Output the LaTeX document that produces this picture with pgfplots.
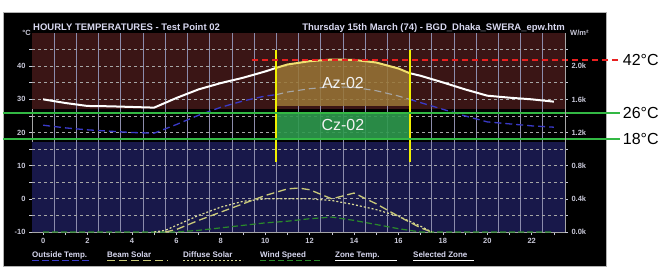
\documentclass[border=0pt]{standalone}
\usepackage{fontspec}
\setmainfont{Liberation Sans}
\usepackage{pgfplots}
\pgfplotsset{compat=1.18}
\definecolor{maroonbg}{HTML}{3A1515}
\definecolor{navybg}{HTML}{18184A}
\definecolor{gridc}{HTML}{8C8CAC}
\definecolor{tickc}{HTML}{C8C8D8}
\definecolor{titc}{HTML}{D8D8F0}
\definecolor{outc}{HTML}{3A3AC8}
\definecolor{beamc}{HTML}{CACA7A}
\definecolor{diffc}{HTML}{DADA98}
\definecolor{windc}{HTML}{2A8A2A}
\definecolor{azc}{HTML}{9A7636}
\definecolor{czc}{HTML}{2E9A4E}
\definecolor{linegreen}{HTML}{33B844}
\definecolor{zoney}{HTML}{F2E070}
\definecolor{vyellow}{HTML}{F0F000}
\definecolor{redl}{HTML}{E82020}
\pgfplotsset{
  base/.style={at={(32pt,34pt)}, anchor=south west, scale only axis,
    width=533pt, height=199pt, xmin=-0.5, xmax=23.5,
    tick align=outside, major tick length=3pt, minor tick length=3pt,
    tick style={draw=tickc, line width=0.6pt},
    ticklabel style={font=\bfseries\fontsize{7.5}{8}\selectfont, text=tickc},
    /pgf/number format/assume math mode=true, clip=false}
}
\begin{document}
\begin{tikzpicture}[x=1pt,y=1pt]
\useasboundingbox (0,0) rectangle (660,266);
\fill[white] (0,0) rectangle (660,266);
\fill[black,draw=gray!60] (3,0) rectangle (606,254);
\node[anchor=base west, inner sep=0, font=\bfseries\fontsize{9.5}{10}\selectfont, text=titc] at (33,236) {HOURLY TEMPERATURES - Test Point 02};
\node[anchor=base east, inner sep=0, font=\bfseries\fontsize{9.5}{10}\selectfont, text=titc] at (565,236) {Thursday 15th March (74) - BGD\_Dhaka\_SWERA\_epw.htm};
\node[anchor=base east, inner sep=0, font=\bfseries\fontsize{7.5}{8}\selectfont, text=tickc] at (31,231) {°C};
\node[anchor=base west, inner sep=0, font=\bfseries\fontsize{7.5}{8}\selectfont, text=tickc] at (570,231) {W/m²};

\begin{axis}[base, ymin=-10, ymax=50,
  axis x line*=bottom, axis y line*=left,
  axis line style={-, draw=gray!70, line width=0.8pt},
  xtick={0,2,...,22}, minor xtick={1,3,...,23},
  ytick={-10,0,...,40}, minor ytick={-5,5,...,45}]
\fill[maroonbg] (axis cs:-0.5,27) rectangle (axis cs:23.5,50);
\fill[navybg] (axis cs:-0.5,-10) rectangle (axis cs:23.5,17);
\pgfplotsinvokeforeach{0,...,22}{\draw[gridc, line width=0.7pt] (axis cs:#1.5,-10) -- (axis cs:#1.5,50);}
\pgfplotsinvokeforeach{-5,0,5,10,15,20,25,30,35,40,45}{\draw[gray!70, line width=0.7pt, dash pattern=on 3pt off 3pt] (axis cs:-0.5,#1) -- (axis cs:23.5,#1);}
% selected zone boxes
\addplot[draw=none, fill=azc, fill opacity=0.85] coordinates {(10.5,28) (10.5,39.5) (11,40.5) (12,41.5) (13,42.0) (14,41.9) (15,41.1) (16,39.3) (16.5,37.9) (16.5,28)} -- cycle;
\addplot[draw=none, fill=czc, fill opacity=0.9] coordinates {(10.5,18) (16.5,18) (16.5,26) (10.5,26)} -- cycle;
% outside temperature
\addplot[outc, line width=1.3pt, dash pattern=on 7pt off 4pt] coordinates {(0,22.2) (1,21.4) (2,20.8) (3,20.4) (4,20.0) (5,19.8) (6,22.4) (7,25.2) (8,27.6) (9,29.5) (10,31.0) (10.5,31.4)};
\addplot[gray!70, line width=1.1pt, dash pattern=on 7pt off 4pt] coordinates {(10.5,31.4) (11,32.2) (12,33.2) (13,33.8) (14,33.6) (15,32.6) (16,31.0) (16.5,30.0)};
\addplot[outc, line width=1.3pt, dash pattern=on 7pt off 4pt] coordinates {(16.5,30.0) (17,29.0) (18,27.0) (19,25.0) (20,23.2) (21,22.6) (22,22.0) (23,21.6)};
% zone temperature
\addplot[white, line width=2pt] coordinates {(0,30.0) (1,28.9) (2,28.0) (3,27.9) (4,27.7) (5,27.5) (6,30.4) (7,33.0) (8,34.9) (9,36.5) (10,38.4) (10.5,39.5)};
\addplot[zoney, line width=2pt] coordinates {(10.5,39.5) (11,40.5) (12,41.5) (13,42.0) (14,41.9) (15,41.1) (16,39.3) (16.5,37.9)};
\addplot[white, line width=2pt] coordinates {(16.5,37.9) (17,37.1) (18,35.1) (19,33.0) (20,31.1) (21,30.5) (22,30.0) (23,29.3)};
% annotations
\draw[vyellow, line width=2pt] (axis cs:10.5,11) -- (axis cs:10.5,45);
\draw[vyellow, line width=2pt] (axis cs:16.5,11) -- (axis cs:16.5,45);
\draw[redl, line width=2pt, dash pattern=on 6pt off 4pt] (axis cs:9.4,42) -- (axis cs:25.98,42);
\draw[linegreen, line width=2pt] (axis cs:-1.806,26) -- (axis cs:25.98,26);
\draw[linegreen, line width=2pt] (axis cs:-1.806,18) -- (axis cs:25.98,18);
\node[anchor=west, inner sep=0, font=\fontsize{16}{16}\selectfont] at (axis cs:26.1,42) {42°C};
\node[anchor=west, inner sep=0, font=\fontsize{16}{16}\selectfont] at (axis cs:26.1,26) {26°C};
\node[anchor=west, inner sep=0, font=\fontsize{16}{16}\selectfont] at (axis cs:26.1,18) {18°C};
\node[text=gray!10, font=\fontsize{16}{16}\selectfont] at (axis cs:13.5,34.9) {Az-02};
\node[text=gray!10, font=\fontsize{16}{16}\selectfont] at (axis cs:13.5,22.2) {Cz-02};
\end{axis}

\begin{axis}[base, ymin=0, ymax=2400,
  axis x line=none, axis y line*=right,
  axis line style={-, draw=gray!70, line width=0.8pt},
  ytick={0,400,...,2000}, yticklabels={0.0k,0.4k,0.8k,1.2k,1.6k,2.0k},
  minor ytick={200,600,...,2200}]
\addplot[windc, line width=1.2pt, dash pattern=on 6pt off 3pt] coordinates {(0,0) (1,0) (2,0) (3,0) (4,0) (5,0) (6,0) (7,20) (8,50) (9,80) (10,110) (11,130) (12,160) (13,180) (14,140) (15,90) (16,40) (17,0) (18,0) (19,0) (20,0) (21,0) (22,0) (23,0)};
\addplot[diffc, line width=1.2pt, dash pattern=on 2pt off 2pt] coordinates {(5,0) (5.5,20) (6,80) (7,200) (8,300) (9,370) (10,400) (11,400) (12,400) (13,380) (14,330) (15,270) (16,190) (17,70) (17.5,0)};
\addplot[beamc, line width=1.3pt, dash pattern=on 8pt off 4pt] coordinates {(5.5,0) (6,30) (7,140) (8,240) (9,340) (10,440) (11,520) (11.5,530) (12,510) (13,400) (14,470) (15,340) (16,190) (17,50) (17.5,0)};
\end{axis}

% legend
\begin{scope}[font=\bfseries\fontsize{8}{9}\selectfont]
\node[anchor=base west, inner sep=0, text=titc] at (32,9) {Outside Temp.};
\draw[outc, line width=1.2pt, dash pattern=on 7pt off 3pt] (32,5.5) -- (90,5.5);
\node[anchor=base west, inner sep=0, text=titc] at (107,9) {Beam Solar};
\draw[beamc, line width=1.2pt, dash pattern=on 8pt off 4pt] (107,5.5) -- (168,5.5);
\node[anchor=base west, inner sep=0, text=titc] at (183,9) {Diffuse Solar};
\draw[diffc, line width=1.2pt, dash pattern=on 2pt off 2pt] (183,5.5) -- (243,5.5);
\node[anchor=base west, inner sep=0, text=titc] at (260,9) {Wind Speed};
\draw[windc, line width=1.2pt, dash pattern=on 6pt off 3pt] (260,5.5) -- (320,5.5);
\node[anchor=base west, inner sep=0, text=titc] at (335,9) {Zone Temp.};
\draw[white, line width=1.2pt] (335,5.5) -- (397,5.5);
\node[anchor=base west, inner sep=0, text=titc] at (413,9) {Selected Zone};
\draw[white, line width=1.2pt] (413,5.5) -- (474,5.5);
\end{scope}
\end{tikzpicture}
\end{document}
